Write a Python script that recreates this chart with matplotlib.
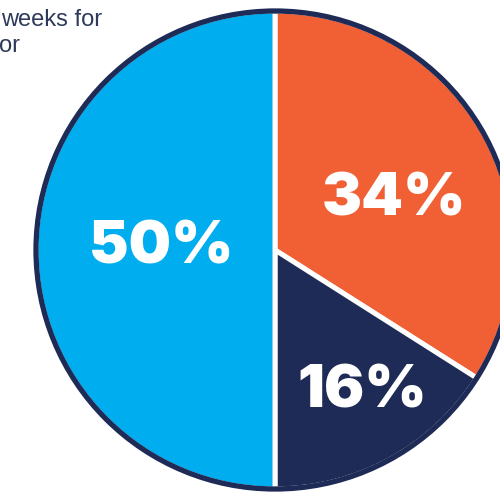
import matplotlib.pyplot as plt
from matplotlib.patches import Circle

shares = [34, 16, 50]
labels = ['34%', '16%', '50%']
colors = ['#F15F35', '#1E2B56', '#00AEEF']
navy = '#1E2B56'

# label anchors in pixel coords (x, baseline y from top)
label_pos = [(394, 215), (362, 408), (161, 263)]

W, H = 500, 495
fig = plt.figure(figsize=(W / 100, H / 100), dpi=100)
ax = fig.add_axes([0, 0, 1, 1])

cx, cy, r = 275, H - 250, 239

ax.pie(shares, colors=colors, startangle=90, counterclock=False,
       center=(cx, cy), radius=r, frame=True,
       wedgeprops=dict(edgecolor='white', linewidth=3.6))
ax.set_xlim(0, W)
ax.set_ylim(0, H)
ax.set_aspect('equal')
ax.axis('off')

# dark ring round the whole pie
ax.add_patch(Circle((cx, cy), r, fill=False, edgecolor=navy, linewidth=3.8, zorder=5))

for lab, (x, y) in zip(labels, label_pos):
    ax.text(x, H - y, lab, ha='center', va='baseline', color='white',
            fontsize=43, family='Inter', fontweight='black', zorder=6)

ax.text(1, H - 26, 'weeks for', ha='left', va='baseline', color='#2E3A5A',
        fontsize=17, family='Liberation Sans')
ax.text(-1, H - 52, 'or', ha='left', va='baseline', color='#2E3A5A',
        fontsize=17, family='Liberation Sans')

fig.savefig('out.png', dpi=100)
